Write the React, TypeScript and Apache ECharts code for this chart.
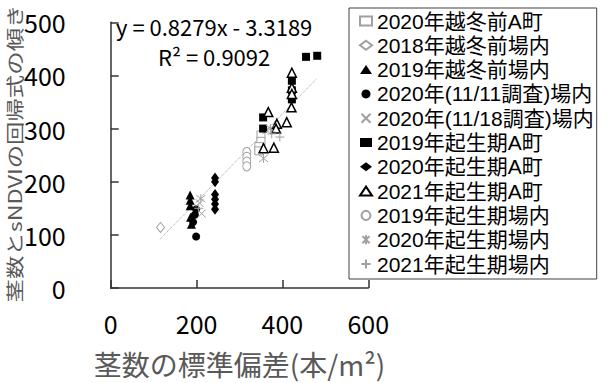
import React, { useEffect, useRef } from "react";
import * as echarts from "echarts";

// ---- data ----
const seriesNames = [
  "2020年越冬前A町",
  "2018年越冬前場内",
  "2019年越冬前場内",
  "2020年(11/11調査)場内",
  "2020年(11/18調査)場内",
  "2019年起生期A町",
  "2020年起生期A町",
  "2021年起生期A町",
  "2019年起生期場内",
  "2020年起生期場内",
  "2021年起生期場内",
];
const pre2020A = [[350, 288], [350, 276], [345, 266], [345, 258]];
const pre2018Jo = [[116, 114]];
const pre2019Jo = [[185, 175], [185, 165], [185, 155], [186, 133], [188, 120]];
const s2020_1111 = [[199, 148], [196, 138], [192, 124], [199, 97]];
const s2020_1118 = [[212, 140], [363, 297], [207, 160]];
const kiseki2019A = [[455, 435], [481, 437], [422, 390], [422, 372], [422, 355], [355, 321], [355, 300]];
const kiseki2020A = [[243, 207], [243, 200], [243, 176], [243, 167], [243, 158], [243, 148]];
const kiseki2021A = [[422, 405], [422, 377], [422, 365], [421, 340], [367, 331], [387, 309], [410, 312], [385, 300], [356, 263], [380, 264]];
const kiseki2019Jo = [[317, 256], [317, 247], [317, 238], [317, 229]];
const kiseki2020Jo = [[210, 168], [356, 244], [372, 300]];
const kiseki2021Jo = [[394, 284], [375, 290], [205, 150]];
const trendLine = [[115, 92], [480, 394]];
const xTicks = [0, 200, 400, 600];
const yTicks = [0, 100, 200, 300, 400, 500];
const equationText = "y = 0.8279x - 3.3189";
const r2Text = "R² = 0.9092";

const FONT = "'Noto Sans CJK JP', 'Noto Sans', sans-serif";
const LEGEND_FONT = "'Liberation Sans', 'Noto Sans CJK JP', sans-serif";
const GRAY = "#a0a0a0";

const crossPath = "path://M0,0L10,10M10,0L0,10";
const starPath = "path://M5,0L5,10M1,1L9,9M9,1L1,9";
const plusPath = "path://M5,0L5,10M0,5L10,5";

export default function App() {
  const ref = useRef<HTMLDivElement>(null);
  useEffect(() => {
    if (!ref.current) return;
    const chart = echarts.init(ref.current, undefined, { renderer: "svg" });
    const mk = (name: string, data: number[][], symbol: string, size: any, fill: string, border: string, bw: number) => ({
      type: "scatter",
      name,
      data,
      symbol,
      symbolSize: size,
      itemStyle: { color: fill, borderColor: border, borderWidth: bw, opacity: 1 },
      z: 3,
    });
    const option: any = {
      animation: false,
      backgroundColor: "#fff",
      grid: { left: 110.7, right: 241.7, top: 22.3, bottom: 91.3 },
      xAxis: {
        type: "value",
        min: xTicks[0],
        max: xTicks[xTicks.length - 1],
        interval: 200,
        axisLine: { show: true, lineStyle: { color: "#333", width: 1.5 } },
        axisTick: { show: true, inside: true, length: 8, lineStyle: { color: "#333", width: 1.5 } },
        splitLine: { show: false },
        axisLabel: { fontSize: 25, color: "#000", margin: 22, fontFamily: FONT },
        name: "茎数の標準偏差(本/m²)",
        nameLocation: "middle",
        nameGap: 62,
        nameTextStyle: { fontSize: 28, color: "#595959", fontFamily: FONT },
      },
      yAxis: {
        type: "value",
        min: yTicks[0],
        max: yTicks[yTicks.length - 1],
        interval: 100,
        axisLine: { show: true, lineStyle: { color: "#333", width: 1.5 } },
        axisTick: { show: true, inside: true, length: 8, lineStyle: { color: "#333", width: 1.5 } },
        splitLine: { show: false },
        axisLabel: { fontSize: 25, color: "#000", margin: 45, fontFamily: FONT },
      },
      legend: {
        orient: "vertical",
        left: 349,
        top: 8,
        data: seriesNames,
        itemGap: 2.3,
        itemWidth: 12,
        itemHeight: 9,
        padding: [2, 3, 4, 10],
        borderColor: "#404040",
        borderWidth: 1,
        backgroundColor: "#fff",
        textStyle: { fontSize: 21, lineHeight: 22, color: "#000", fontFamily: LEGEND_FONT },
      },
      graphic: [
        {
          type: "text",
          left: 116,
          top: 15,
          style: { text: equationText, font: `22px ${FONT}`, fill: "#000" },
        },
        {
          type: "text",
          left: 158,
          top: 45,
          style: { text: r2Text, font: `22px ${FONT}`, fill: "#000" },
        },
        {
          type: "text",
          x: 14.7,
          y: 153.5,
          rotation: Math.PI / 2,
          scaleX: 1.3,
          style: {
            text: "茎数とsNDVIの回帰式の傾き",
            font: `18px ${FONT}`,
            fill: "#595959",
            align: "center",
            verticalAlign: "middle",
          },
        },
      ],
      series: [
        {
          type: "line",
          name: "trend",
          data: trendLine,
          symbol: "none",
          lineStyle: { color: GRAY, width: 1, type: "dotted" },
          z: 1,
          silent: true,
        },
        mk(seriesNames[0], pre2020A, "rect", 8, "#fff", GRAY, 1),
        mk(seriesNames[1], pre2018Jo, "diamond", [8, 10], "#fff", GRAY, 1),
        mk(seriesNames[2], pre2019Jo, "triangle", 9, "#000", "#000", 0),
        mk(seriesNames[3], s2020_1111, "circle", 8, "#000", "#000", 0),
        mk(seriesNames[4], s2020_1118, crossPath, 8, "none", GRAY, 1),
        mk(seriesNames[5], kiseki2019A, "rect", 8, "#000", "#000", 0),
        mk(seriesNames[6], kiseki2020A, "diamond", [8, 11], "#000", "#000", 0),
        mk(seriesNames[7], kiseki2021A, "triangle", 9, "#fff", "#000", 1.5),
        mk(seriesNames[8], kiseki2019Jo, "circle", [8, 9], "#fff", GRAY, 1),
        mk(seriesNames[9], kiseki2020Jo, starPath, 9, "none", GRAY, 1),
        mk(seriesNames[10], kiseki2021Jo, plusPath, 9, "none", GRAY, 1),
      ],
    };
    chart.setOption(option);
    return () => chart.dispose();
  }, []);
  return <div ref={ref} style={{ position: "fixed", left: 0, top: 0, width: 610, height: 383 }} />;
}
